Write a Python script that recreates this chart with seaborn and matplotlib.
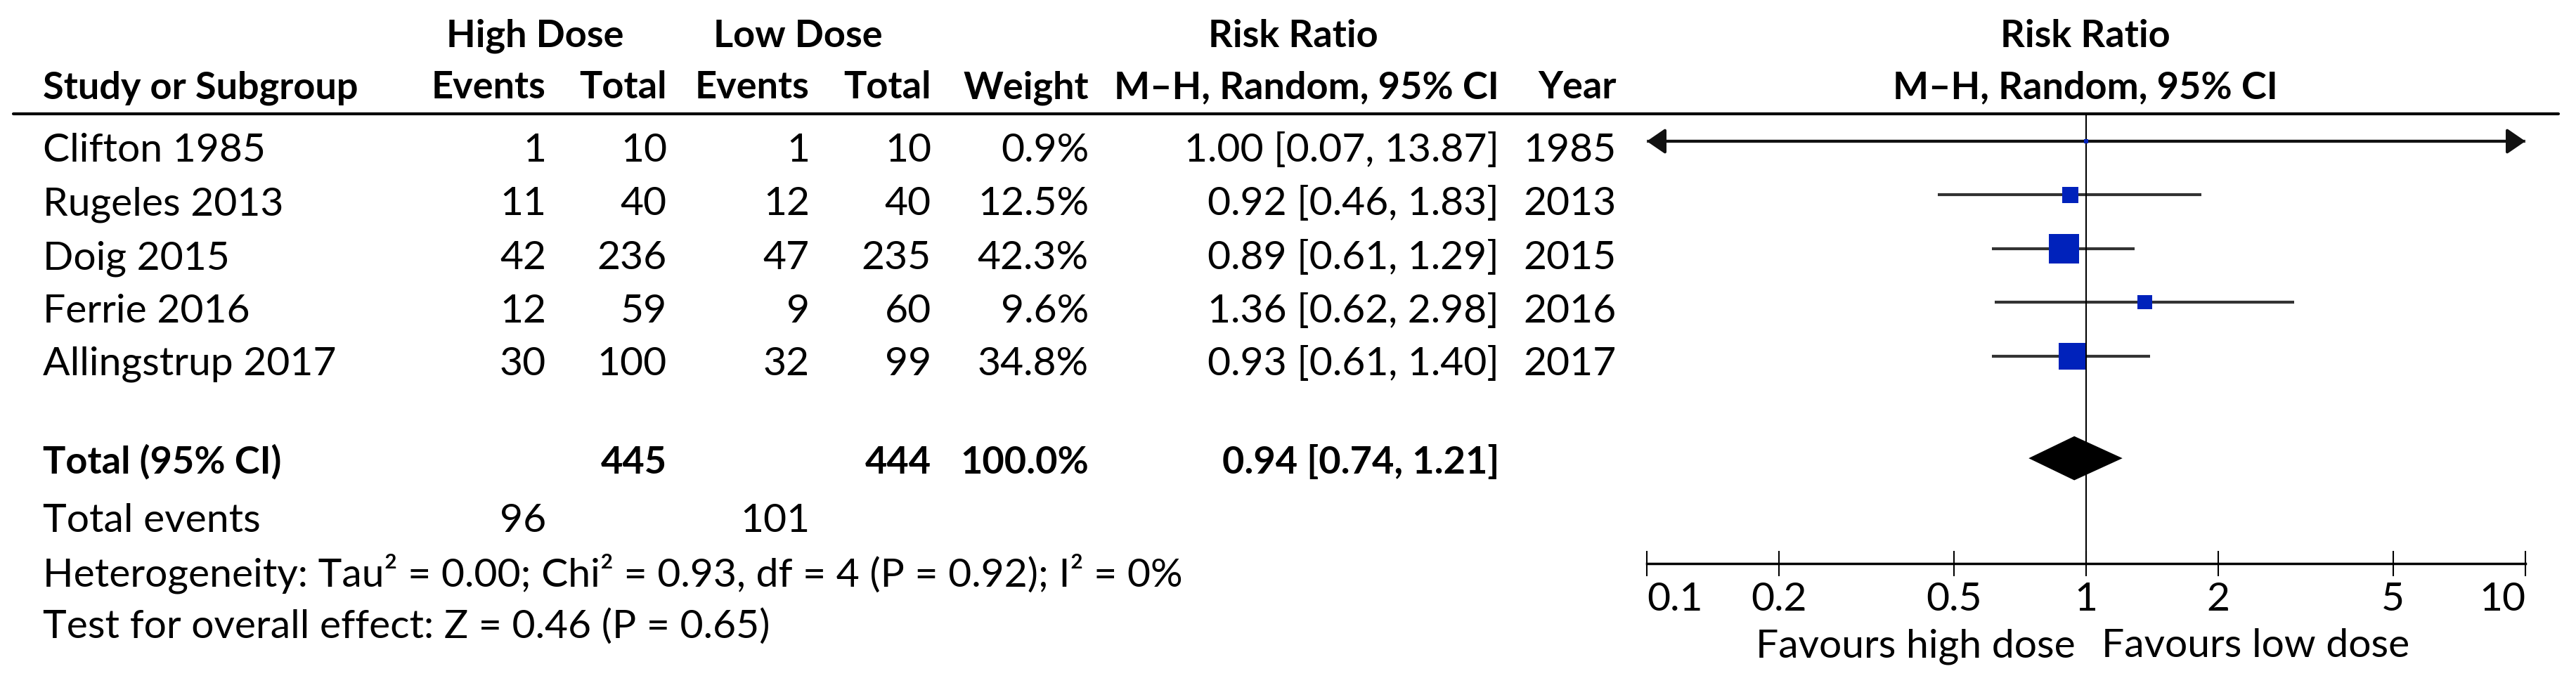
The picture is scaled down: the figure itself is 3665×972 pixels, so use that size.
import numpy as np
import pandas as pd
import matplotlib.pyplot as plt
import seaborn as sns
from matplotlib.lines import Line2D
from matplotlib.ticker import NullLocator

# study level data
studies = ["Clifton 1985", "Rugeles 2013", "Doig 2015", "Ferrie 2016", "Allingstrup 2017"]
high_events = [1, 11, 42, 12, 30]
high_total = [10, 40, 236, 59, 100]
low_events = [1, 12, 47, 9, 32]
low_total = [10, 40, 235, 60, 99]
weight = [0.9, 12.5, 42.3, 9.6, 34.8]
rr = [1.00, 0.92, 0.89, 1.36, 0.93]
ci_lo = [0.07, 0.46, 0.61, 0.62, 0.61]
ci_hi = [13.87, 1.83, 1.29, 2.98, 1.40]
years = [1985, 2013, 2015, 2016, 2017]

# pooled result
total_high = 445
total_low = 444
total_weight = 100.0
total_rr = 0.94
total_lo = 0.74
total_hi = 1.21
events_high = 96
events_low = 101

ticks = [0.1, 0.2, 0.5, 1, 2, 5, 10]
tick_labels = ["0.1", "0.2", "0.5", "1", "2", "5", "10"]

sns.set_style("white")
plt.rcParams["font.family"] = ["Lato", "DejaVu Sans"]

W, H = 3666, 972
FS = 41
FS_B = 39
fig = plt.figure(figsize=(W / 100, H / 100), dpi=100)


def put(x, y, s, ha="left", bold=False):
    fig.text(x / W, 1 - y / H, s, ha=ha, va="baseline",
             fontsize=FS_B if bold else FS,
             fontweight="bold" if bold else "normal", color="black")


# column positions (pixels)
x_name, x_he, x_ht, x_le, x_lt, x_wt, x_ci, x_yr = 61, 777, 949, 1152, 1325, 1549, 2133, 2300

# headers
put(761, 67, "High Dose", ha="center", bold=True)
put(1135, 67, "Low Dose", ha="center", bold=True)
put(1840, 67, "Risk Ratio", ha="center", bold=True)
put(2967, 67, "Risk Ratio", ha="center", bold=True)
put(x_name, 140, "Study or Subgroup", bold=True)
put(x_he, 140, "Events", ha="right", bold=True)
put(x_ht, 140, "Total", ha="right", bold=True)
put(x_le, 140, "Events", ha="right", bold=True)
put(x_lt, 140, "Total", ha="right", bold=True)
put(x_wt, 140, "Weight", ha="right", bold=True)
put(x_ci, 140, "M–H, Random, 95% CI", ha="right", bold=True)
put(x_yr, 140, "Year", ha="right", bold=True)
put(2967, 140, "M–H, Random, 95% CI", ha="center", bold=True)

fig.add_artist(Line2D([19 / W, 3640 / W], [1 - 162 / H] * 2, color="black", lw=3))

# study rows
row_base = [230, 306, 383, 459, 534]
for i, name in enumerate(studies):
    yb = row_base[i]
    put(x_name, yb, name)
    put(x_he, yb, str(high_events[i]), ha="right")
    put(x_ht, yb, str(high_total[i]), ha="right")
    put(x_le, yb, str(low_events[i]), ha="right")
    put(x_lt, yb, str(low_total[i]), ha="right")
    put(x_wt, yb, f"{weight[i]:.1f}%", ha="right")
    put(x_ci, yb, f"{rr[i]:.2f} [{ci_lo[i]:.2f}, {ci_hi[i]:.2f}]", ha="right")
    put(x_yr, yb, str(years[i]), ha="right")

# totals
put(x_name, 674, "Total (95% CI)", bold=True)
put(x_ht, 674, str(total_high), ha="right", bold=True)
put(x_lt, 674, str(total_low), ha="right", bold=True)
put(x_wt, 674, f"{total_weight:.1f}%", ha="right", bold=True)
put(x_ci, 674, f"{total_rr:.2f} [{total_lo:.2f}, {total_hi:.2f}]", ha="right", bold=True)
put(x_name, 757, "Total events")
put(x_he, 757, str(events_high), ha="right")
put(x_le, 757, str(events_low), ha="right")
put(x_name, 834, "Heterogeneity: Tau² = 0.00; Chi² = 0.93, df = 4 (P = 0.92); I² = 0%")
put(x_name, 908, "Test for overall effect: Z = 0.46 (P = 0.65)")

# forest plot
ax = fig.add_axes([2343 / W, 1 - 802 / H, 1250 / W, 640 / H])
ax.patch.set_alpha(0)
ax.set_xscale("log")
ax.set_xlim(ticks[0], ticks[-1])
ax.set_ylim(7.86, -0.51)

df = pd.DataFrame({"study": studies, "rr": rr, "lo": ci_lo, "hi": ci_hi,
                   "weight": weight, "row": np.arange(len(studies))})
df["lo_c"] = df["lo"].clip(lower=ticks[0])
df["hi_c"] = df["hi"].clip(upper=ticks[-1])
df["size"] = (6.5 * np.sqrt(df["weight"]) * 0.72) ** 2

ax.hlines(df["row"], df["lo_c"], df["hi_c"], color="#333333", lw=3, zorder=1)
for _, r in df.iterrows():
    left = r["lo"] < ticks[0]
    right = r["hi"] > ticks[-1]
    if left or right:
        style = "<|-|>" if (left and right) else ("-|>" if right else "<|-")
        ax.annotate("", xy=(r["hi_c"], r["row"]), xytext=(r["lo_c"], r["row"]),
                    arrowprops=dict(arrowstyle=style + ",head_length=0.8,head_width=0.55",
                                    mutation_scale=20, color="#111111", lw=3,
                                    shrinkA=0, shrinkB=0),
                    annotation_clip=False, zorder=2)

ax.axvline(1, color="black", lw=1.5, zorder=2)

sns.scatterplot(data=df, x="rr", y="row", marker="s", s=df["size"].values,
                color="#0022BB", linewidth=0, legend=False, ax=ax, zorder=3)

# pooled diamond
y_tot = 5.9
h = 0.41
ax.fill([total_lo, total_rr, total_hi, total_rr], [y_tot, y_tot - h, y_tot, y_tot + h],
        color="black", lw=0, zorder=3)

for s in ["top", "left", "right"]:
    ax.spines[s].set_visible(False)
ax.spines["bottom"].set_linewidth(2.5)
ax.spines["bottom"].set_color("black")
ax.set_yticks([])
ax.set_xticks(ticks)
ax.set_xticklabels(tick_labels)
ax.xaxis.set_minor_locator(NullLocator())
ax.tick_params(axis="x", bottom=True, direction="inout", length=26, width=1.5, pad=6,
               labelsize=FS, colors="black")
lbls = ax.get_xticklabels()
lbls[0].set_ha("left")
lbls[-1].set_ha("right")
ax.set_xlabel("")
ax.set_ylabel("")

put(2953, 935, "Favours high dose", ha="right")
put(2990, 935, "Favours low dose")

fig.savefig("out.png", dpi=100, facecolor="white")
